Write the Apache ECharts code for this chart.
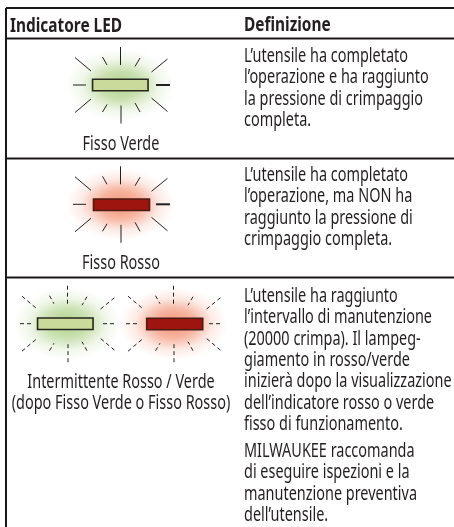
<!DOCTYPE html>
<html><head><meta charset="utf-8">
<style>html,body{margin:0;padding:0;background:#fff}#c{width:454px;height:527px}</style>
<script src="https://cdn.jsdelivr.net/npm/echarts@6/dist/echarts.min.js"></script>
</head><body><div id="c"></div>
<script>
const headers = ['Indicatore LED', 'Definizione'];
const ledLabels = ['Fisso Verde', 'Fisso Rosso', 'Intermittente Rosso / Verde', '(dopo Fisso Verde o Fisso Rosso)'];
const defRow1 = ['L’utensile ha completato', 'l’operazione e ha raggiunto', 'la pressione di crimpaggio', 'completa.'];
const defRow2 = ['L’utensile ha completato', 'l’operazione, ma NON ha', 'raggiunto la pressione di', 'crimpaggio completa.'];
const defRow3a = ['L’utensile ha raggiunto', 'l’intervallo di manutenzione', '(20000 crimpa). Il lampeg-', 'giamento in rosso/verde', 'inizierà dopo la visualizzazione', 'dell’indicatore rosso o verde', 'fisso di funzionamento.'];
const defRow3b = ['MILWAUKEE raccomanda', 'di eseguire ispezioni e la', 'manutenzione preventiva', 'dell’utensile.'];

const FONT = '"Noto Sans",sans-serif';
const INK = '#231f20';
const SX = 0.76, SIZE = 19, SXB = 0.79;
const pal = {
  g: {fill:'#c9da9b', stroke:'#26261c', glow:[150,195,100]},
  r: {fill:'#9e140f', stroke:'#4b1c14', glow:[238,110,70]}
};
// rays relative to LED centre: x1,y1,x2,y2,width
const rays = [
 [0,-38,0,-20,1],[-18,-28,-13.5,-20,1],[19.5,-27,14.5,-18.5,1],[-45.5,-27.5,-29.5,-14,1],[47,-26,31,-13,1],
 [-47.5,0,-34.5,0,1],[35.5,0,49.5,0,2],
 [0.5,20.5,0.5,38.5,1],[-18,27,-13.5,19.5,1],[19.5,27,14.5,18,1],[-45.5,27.5,-29.5,14,1],[47,26.5,31,13,1]
];
const leds = [
 {c:'g',rx:120.5,ry:85,bx:120.3,by:85,dash:false,w:55.5,h:11.5},
 {c:'r',rx:120.5,ry:204.3,bx:121.5,by:204.7,dash:false,w:56,h:11.5},
 {c:'g',rx:67.5,ry:323.7,bx:65.3,by:323.7,dash:true,w:55.5,h:11.5},
 {c:'r',rx:173.5,ry:323.7,bx:174.7,by:324,dash:true,w:56,h:11.5}
];
const texts = [];
function T(s,x,y,o){texts.push(Object.assign({s,x,y},o||{}));}
T(headers[0],10,26,{bold:true,size:19.5});
T(headers[1],244,25,{bold:true,size:19.5});
T(ledLabels[0],121,145,{center:true});
T(ledLabels[1],121,264,{center:true});
T(ledLabels[2],121,383,{center:true});
T(ledLabels[3],121,404,{center:true});
defRow1.forEach((s,i)=>T(s,244,56.7+i*21.3));
defRow2.forEach((s,i)=>T(s,244,175.5+i*21.5));
defRow3a.forEach((s,i)=>T(s,244,296.7+i*21.3));
defRow3b.forEach((s,i)=>T(s,244,451.7+i*21.2));
const rules = [[6,8,454,8],[6,38.6,454,38.6],[6,158.6,454,158.6],[6,277.4,454,277.4],[6,8,6,527]];

const chart = echarts.init(document.getElementById('c'),null,{renderer:'canvas'});
chart.setOption({
  animation:false,
  grid:{left:0,right:0,top:0,bottom:0},
  xAxis:{type:'value',min:0,max:454,show:false},
  yAxis:{type:'value',min:0,max:527,inverse:true,show:false},
  series:[
   {type:'custom',silent:true,clip:false,z:1,encode:{x:0,y:1},data:leds.map((l,i)=>[l.bx,l.by,i]),
    renderItem(p,api){
      const l=leds[api.value(2)],pc=pal[l.c],g=pc.glow;
      const [cx,cy]=api.coord([l.bx,l.by]);
      const [rx,ry]=api.coord([l.rx,l.ry]);
      const col=a=>`rgba(${g[0]},${g[1]},${g[2]},${a})`;
      const kids=[{type:'circle',x:rx,y:ry,scaleX:54,scaleY:36,shape:{cx:0,cy:0,r:1},
        style:{fill:{type:'radial',x:0.5,y:0.5,r:0.5,colorStops:[
          {offset:0,color:col(0.75)},{offset:0.4,color:col(0.5)},{offset:0.72,color:col(0.14)},{offset:1,color:col(0)}]}}}];
      rays.forEach(a=>kids.push({type:'line',shape:{x1:rx+a[0],y1:ry+a[1],x2:rx+a[2],y2:ry+a[3]},
        style:{stroke:INK,lineWidth:l.dash?1:a[4],lineDash:l.dash?[4,3]:null}}));
      kids.push({type:'rect',shape:{x:cx-l.w/2,y:cy-l.h/2,width:l.w,height:l.h},
        style:{fill:pc.fill,stroke:pc.stroke,lineWidth:1.6}});
      return {type:'group',children:kids};
    }},
   {type:'custom',silent:true,clip:false,z:2,encode:{x:0,y:1},data:rules.map(r=>[r[0],r[1],r[2],r[3]]),
    renderItem(p,api){
      const a=api.coord([api.value(0),api.value(1)]),b=api.coord([api.value(2),api.value(3)]);
      return {type:'line',shape:{x1:a[0],y1:a[1],x2:b[0],y2:b[1]},style:{stroke:'#1a1718',lineWidth:2}};
    }},
   {type:'custom',silent:true,clip:false,z:3,encode:{x:0,y:1},data:texts.map((t,i)=>[t.x,t.y,i]),
    renderItem(p,api){
      const t=texts[api.value(2)],c=api.coord([t.x,t.y]);
      return {type:'text',x:c[0],y:c[1],scaleX:t.bold?SXB:SX,style:{text:t.s,fill:INK,align:t.center?'center':'left',verticalAlign:'middle',
        font:(t.bold?'bold ':'')+(t.size||SIZE)+'px '+FONT}};
    }}
  ]
});
</script></body></html>
